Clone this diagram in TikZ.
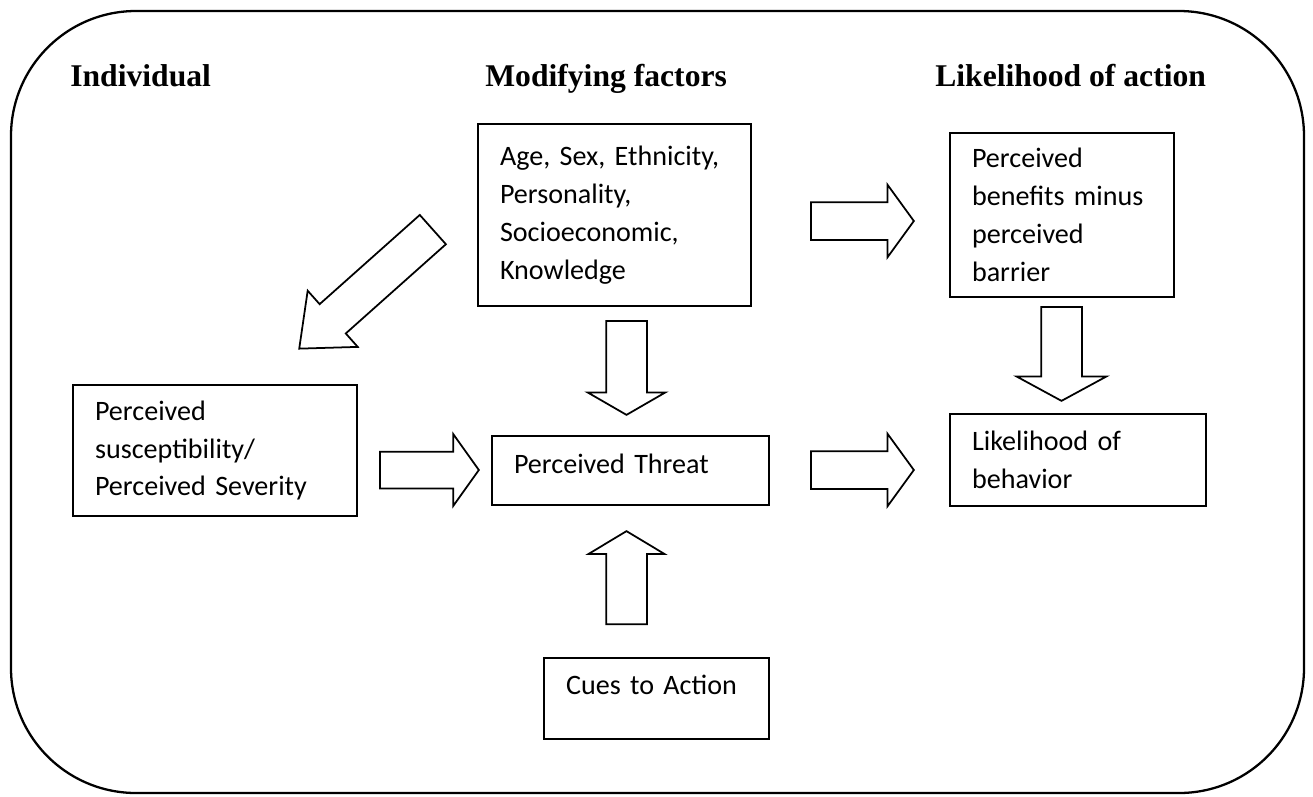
\documentclass[tikz,border=0pt]{standalone}
\usepackage{fontspec}
\usepackage{tikz}
\usetikzlibrary{shapes.arrows}
\newfontfamily\carlito{Carlito}
\newfontfamily\timesbold{Liberation Serif}[FakeBold=0]
\newcommand{\boxtext}{\carlito\fontsize{16}{21.6}\selectfont}
\newcommand{\headtext}{\timesbold\bfseries\fontsize{18}{22}\selectfont}

\begin{document}
\begin{tikzpicture}[x=0.02cm, y=-0.02cm]
\tikzstyle{box}=[draw, line width=1pt, align=left, inner xsep=0.44cm,
                 inner ysep=0pt, font=\boxtext]
\tikzstyle{heading}=[anchor=base west, inner sep=0pt, font=\headtext]
\tikzstyle{blk}=[single arrow, draw, line width=1pt, inner xsep=0pt,
                 minimum width=0pt, anchor=tail]
\useasboundingbox (0,0) rectangle (1313,796);
\draw[line width=1.3pt, rounded corners=2.5cm] (11,11) rectangle (1304,793);
% column headings
\node[heading] (hind) at (70,86)  {Individual};
\node[heading] (hmod) at (485,86) {Modifying factors};
\node[heading] (hact) at (935,86) {Likelihood of action};
% boxes
\node[box, text width=4.58cm, minimum height=3.64cm] (mod) at (614.5,215)
  {Age, Sex, Ethnicity,\\ Personality,\\ Socioeconomic,\\ Knowledge};
\node[box, text width=3.6cm, minimum height=3.28cm] (ben) at (1062,215)
  {Perceived\\ benefits minus\\ perceived\\ barrier};
\node[box, text width=4.24cm, minimum height=1.84cm] (lik) at (1078,460)
  {Likelihood of\\ behavior};
\node[box, text width=4.8cm, minimum height=2.62cm] (sus) at (215,450.5)
  {Perceived\\ susceptibility/\\ Perceived Severity};
\node[box, text width=4.66cm, minimum height=1.38cm, text depth=8pt] (thr) at (630.5,470.5)
  {Perceived Threat};
\node[box, text width=3.62cm, minimum height=1.62cm, text depth=16pt] (cue) at (656.5,698.5)
  {Cues to Action};
% block arrows
\node[blk, minimum height=2.06cm, inner ysep=0.36cm, single arrow head extend=0.35cm,
      single arrow tip angle=108] (mod-ben) at (810,221) {};
\node[blk, minimum height=2.06cm, inner ysep=0.36cm, single arrow head extend=0.35cm,
      single arrow tip angle=108] (thr-lik) at (810,470) {};
\node[blk, minimum height=1.98cm, inner ysep=0.35cm, single arrow head extend=0.35cm,
      single arrow tip angle=109] (sus-thr) at (379,470) {};
\node[blk, rotate=-90, minimum height=1.88cm, inner ysep=0.39cm, single arrow head extend=0.37cm,
      single arrow tip angle=120] (mod-thr) at (626.5,320) {};
\node[blk, rotate=-90, minimum height=1.88cm, inner ysep=0.39cm, single arrow head extend=0.49cm,
      single arrow tip angle=123] (ben-lik) at (1061.5,306) {};
\node[blk, rotate=90, minimum height=1.86cm, inner ysep=0.39cm, single arrow head extend=0.35cm,
      single arrow tip angle=118] (cue-thr) at (626.5,625) {};
\node[blk, rotate=221.7, minimum height=3.58cm, inner ysep=0.375cm, single arrow head extend=0.36cm,
      single arrow tip angle=80] (mod-sus) at (433.5,229) {};
\end{tikzpicture}
\end{document}
